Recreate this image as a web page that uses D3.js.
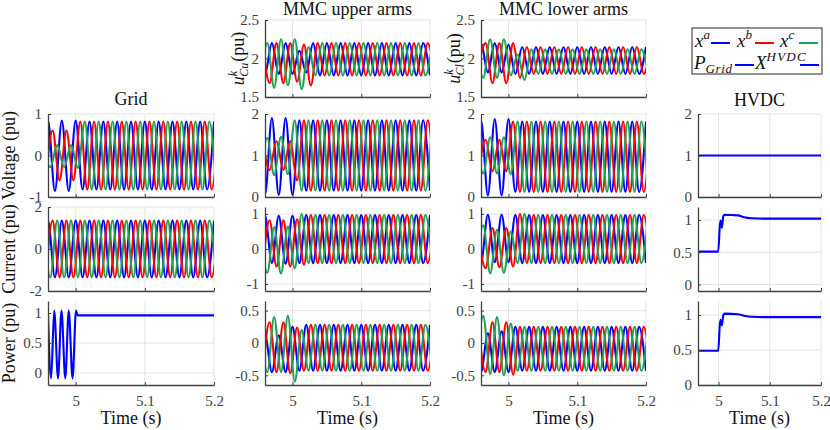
<!DOCTYPE html>
<html>
<head>
<meta charset="utf-8">
<script src="https://cdn.jsdelivr.net/npm/d3@7"></script>
<style>
  body { margin: 0; background: #fff; }
  svg { font-family: "Liberation Serif", serif; }
</style>
</head>
<body>
<div id="chart"></div>
<script>
// time axis shared by every panel
const t_start = 4.96;
const t_end = 5.2;
const time_ticks = [5, 5.1, 5.2];

// three-phase waveforms are stored as successive extrema (peak / trough),
// one every half period, starting at phase_t0 for phase a, b, c
const half_period = 0.01;
const phase_t0 = [4.95, 4.9567, 4.9533];
const phase_colors = ['#0000ff', '#ff0000', '#20a050'];

// Grid voltage
const gridVa = [-0.86, 0.84, -0.86, 0.84, -0.86, 0.84, -0.82, 0.82, -0.82, 0.82, -0.82, 0.82, -0.82, 0.82, -0.82, 0.82, -0.82, 0.82, -0.82, 0.82, -0.82, 0.82, -0.82, 0.82, -0.82, 0.82];
const gridVb = [-0.6, 0.6, -0.6, 0.6, -0.6, 0.82, -0.82, 0.82, -0.82, 0.82, -0.82, 0.82, -0.82, 0.82, -0.82, 0.82, -0.82, 0.82, -0.82, 0.82, -0.82, 0.82, -0.82, 0.82, -0.82, 0.82];
const gridVc = [0.22, -0.28, 0.25, -0.28, 0.25, -0.3, 0.82, -0.82, 0.82, -0.82, 0.82, -0.82, 0.82, -0.82, 0.82, -0.82, 0.82, -0.82, 0.82, -0.82, 0.82, -0.82, 0.82, -0.82, 0.82, -0.82];
// Grid current
const gridIa = [-1.35, 1.35, -1.35, 1.35, -1.35, 1.35, -1.35, 1.35, -1.35, 1.35, -1.35, 1.35, -1.35, 1.35, -1.35, 1.35, -1.35, 1.35, -1.35, 1.35, -1.35, 1.35, -1.35, 1.35, -1.35, 1.35];
const gridIb = [-1.35, 1.35, -1.35, 1.35, -1.35, 1.35, -1.35, 1.35, -1.35, 1.35, -1.35, 1.35, -1.35, 1.35, -1.35, 1.35, -1.35, 1.35, -1.35, 1.35, -1.35, 1.35, -1.35, 1.35, -1.35, 1.35];
const gridIc = [1.35, -1.35, 1.35, -1.35, 1.35, -1.35, 1.35, -1.35, 1.35, -1.35, 1.35, -1.35, 1.35, -1.35, 1.35, -1.35, 1.35, -1.35, 1.35, -1.35, 1.35, -1.35, 1.35, -1.35, 1.35, -1.35];
// Grid power (single trace)
const gridPowerT = [4.96, 4.9645, 4.969, 4.9745, 4.9795, 4.985, 4.990, 4.9955, 5.0005, 5.003, 5.2];
const gridPowerV = [0.96, -0.09, 1.04, -0.09, 1.04, -0.09, 1.04, -0.09, 1.04, 0.96, 0.96];

// MMC upper arms
const upperUcA = [2.2, 1.8, 2.2, 1.8, 2.2, 1.8, 2.1, 1.82, 2.2, 1.78, 2.2, 1.78, 2.2, 1.78, 2.2, 1.78, 2.2, 1.78, 2.2, 1.78, 2.2, 1.78, 2.2, 1.78, 2.2, 1.78];
const upperUcB = [2.2, 1.68, 2.2, 1.68, 2.2, 1.7, 2.18, 1.65, 2.2, 1.78, 2.2, 1.78, 2.2, 1.78, 2.2, 1.78, 2.2, 1.78, 2.2, 1.78, 2.2, 1.78, 2.2, 1.78, 2.2, 1.78];
const upperUcC = [1.75, 2.2, 1.62, 2.25, 1.65, 2.25, 1.6, 2.15, 1.78, 2.2, 1.78, 2.2, 1.78, 2.2, 1.78, 2.2, 1.78, 2.2, 1.78, 2.2, 1.78, 2.2, 1.78, 2.2, 1.78, 2.2];
const upperVa = [1.9, 0.06, 1.9, 0.05, 1.9, 0.05, 1.85, 0.15, 1.85, 0.15, 1.85, 0.15, 1.85, 0.15, 1.85, 0.15, 1.85, 0.15, 1.85, 0.15, 1.85, 0.15, 1.85, 0.15, 1.85, 0.15];
const upperVb = [1.35, 0.65, 1.35, 0.65, 1.35, 0.4, 1.85, 0.15, 1.85, 0.15, 1.85, 0.15, 1.85, 0.15, 1.85, 0.15, 1.85, 0.15, 1.85, 0.15, 1.85, 0.15, 1.85, 0.15, 1.85, 0.15];
const upperVc = [0.55, 1.42, 0.53, 1.45, 0.55, 1.85, 0.15, 1.85, 0.15, 1.85, 0.15, 1.85, 0.15, 1.85, 0.15, 1.85, 0.15, 1.85, 0.15, 1.85, 0.15, 1.85, 0.15, 1.85, 0.15, 1.85];
const upperIa = [-0.4, 0.95, -0.4, 0.95, -0.42, 0.95, -0.4, 0.97, -0.4, 0.97, -0.4, 0.97, -0.4, 0.97, -0.4, 0.97, -0.4, 0.97, -0.4, 0.97, -0.4, 0.97, -0.4, 0.97, -0.4, 0.97];
const upperIb = [-0.5, 0.82, -0.5, 0.82, -0.5, 0.85, -0.45, 0.97, -0.4, 0.97, -0.4, 0.97, -0.4, 0.97, -0.4, 0.97, -0.4, 0.97, -0.4, 0.97, -0.4, 0.97, -0.4, 0.97, -0.4, 0.97];
const upperIc = [0.5, -0.68, 0.62, -0.7, 0.64, -0.55, 1.0, -0.4, 0.97, -0.4, 0.97, -0.4, 0.97, -0.4, 0.97, -0.4, 0.97, -0.4, 0.97, -0.4, 0.97, -0.4, 0.97, -0.4, 0.97, -0.4];
const upperPa = [-0.42, 0.12, -0.45, 0.12, -0.45, 0.25, -0.43, 0.28, -0.43, 0.28, -0.43, 0.28, -0.43, 0.28, -0.43, 0.28, -0.43, 0.28, -0.43, 0.28, -0.43, 0.28, -0.43, 0.28, -0.43, 0.28];
const upperPb = [-0.45, 0.32, -0.45, 0.32, -0.47, 0.24, -0.43, 0.28, -0.43, 0.28, -0.43, 0.28, -0.43, 0.28, -0.43, 0.28, -0.43, 0.28, -0.43, 0.28, -0.43, 0.28, -0.43, 0.28, -0.43, 0.28];
const upperPc = [0.3, -0.45, 0.4, -0.45, 0.42, -0.6, 0.2, -0.43, 0.28, -0.43, 0.28, -0.43, 0.28, -0.43, 0.28, -0.43, 0.28, -0.43, 0.28, -0.43, 0.28, -0.43, 0.28, -0.43, 0.28, -0.43];

// MMC lower arms
const lowerUcA = [1.8, 2.2, 1.82, 2.2, 1.82, 2.18, 1.8, 2.15, 1.8, 2.15, 1.8, 2.15, 1.8, 2.15, 1.8, 2.15, 1.8, 2.15, 1.8, 2.15, 1.8, 2.15, 1.8, 2.15, 1.8, 2.15];
const lowerUcB = [1.95, 2.2, 1.68, 2.2, 1.68, 2.2, 1.75, 2.15, 1.8, 2.15, 1.8, 2.15, 1.8, 2.15, 1.8, 2.15, 1.8, 2.15, 1.8, 2.15, 1.8, 2.15, 1.8, 2.15, 1.8, 2.15];
const lowerUcC = [2.1, 1.75, 2.25, 1.75, 2.25, 1.78, 2.05, 1.72, 2.12, 1.8, 2.12, 1.8, 2.12, 1.8, 2.12, 1.8, 2.12, 1.8, 2.12, 1.8, 2.12, 1.8, 2.12, 1.8, 2.12, 1.8];
const lowerVa = [0.05, 1.85, 0.04, 1.88, 0.04, 1.88, 0.12, 1.82, 0.12, 1.82, 0.12, 1.82, 0.12, 1.82, 0.12, 1.82, 0.12, 1.82, 0.12, 1.82, 0.12, 1.82, 0.12, 1.82, 0.12, 1.82];
const lowerVb = [0.62, 1.38, 0.62, 1.38, 0.62, 1.82, 0.12, 1.82, 0.12, 1.82, 0.12, 1.82, 0.12, 1.82, 0.12, 1.82, 0.12, 1.82, 0.12, 1.82, 0.12, 1.82, 0.12, 1.82, 0.12, 1.82];
const lowerVc = [1.3, 0.57, 1.44, 0.57, 1.44, 0.55, 1.82, 0.12, 1.82, 0.12, 1.82, 0.12, 1.82, 0.12, 1.82, 0.12, 1.82, 0.12, 1.82, 0.12, 1.82, 0.12, 1.82, 0.12, 1.82, 0.12];
const lowerIa = [0.98, -0.38, 0.98, -0.38, 0.98, -0.38, 0.97, -0.4, 0.97, -0.4, 0.97, -0.4, 0.97, -0.4, 0.97, -0.4, 0.97, -0.4, 0.97, -0.4, 0.97, -0.4, 0.97, -0.4, 0.97, -0.4];
const lowerIb = [0.3, -0.55, 0.6, -0.52, 0.6, -0.5, 1.0, -0.4, 0.97, -0.4, 0.97, -0.4, 0.97, -0.4, 0.97, -0.4, 0.97, -0.4, 0.97, -0.4, 0.97, -0.4, 0.97, -0.4, 0.97, -0.4];
const lowerIc = [-0.3, 0.68, -0.7, 0.55, -0.68, 0.5, -0.4, 1.0, -0.4, 0.97, -0.4, 0.97, -0.4, 0.97, -0.4, 0.97, -0.4, 0.97, -0.4, 0.97, -0.4, 0.97, -0.4, 0.97, -0.4, 0.97];
const lowerPa = [0.15, -0.45, 0.15, -0.45, 0.18, -0.45, 0.25, -0.43, 0.25, -0.43, 0.25, -0.43, 0.25, -0.43, 0.25, -0.43, 0.25, -0.43, 0.25, -0.43, 0.25, -0.43, 0.25, -0.43, 0.25, -0.43];
const lowerPb = [0.2, -0.45, 0.32, -0.45, 0.32, -0.49, 0.25, -0.43, 0.25, -0.43, 0.25, -0.43, 0.25, -0.43, 0.25, -0.43, 0.25, -0.43, 0.25, -0.43, 0.25, -0.43, 0.25, -0.43, 0.25, -0.43];
const lowerPc = [-0.4, 0.42, -0.48, 0.4, -0.5, 0.3, -0.43, 0.25, -0.43, 0.25, -0.43, 0.25, -0.43, 0.25, -0.43, 0.25, -0.43, 0.25, -0.43, 0.25, -0.43, 0.25, -0.43, 0.25, -0.43, 0.25];

// HVDC side (single traces)
const hvdcVoltT = [4.96, 5.2];
const hvdcVoltV = [1, 1];
const hvdcCurT = [4.96, 4.9995, 5.0025, 5.004, 5.0065, 5.0095, 5.012, 5.038, 5.05, 5.065, 5.09, 5.2];
const hvdcCurV = [0.51, 0.51, 0.9, 0.99, 0.88, 1.06, 1.08, 1.07, 1.04, 1.025, 1.02, 1.02];
const hvdcPowT = [4.96, 4.9995, 5.0025, 5.004, 5.0065, 5.0095, 5.012, 5.038, 5.05, 5.065, 5.09, 5.2];
const hvdcPowV = [0.49, 0.49, 0.85, 0.93, 0.85, 1.0, 1.02, 1.01, 0.99, 0.975, 0.97, 0.97];

// layout
const chart_width = 830;
const chart_height = 430;
const columns = { grid: [48, 214], upper: [265, 430], lower: [481, 646], hvdc: [698, 821] };
const rows = [[20, 97], [114, 197], [207, 291], [301, 385]];
const font = '"Liberation Serif", serif';
const axis_color = '#404040';
const grid_color = '#e4e4e4';

const panels = [
    { col: 'grid', row: 1, ylim: [-1, 1], yticks: [-1, 0, 1], phases: [gridVa, gridVb, gridVc] },
    { col: 'grid', row: 2, ylim: [-2, 2], yticks: [-2, 0, 2], phases: [gridIa, gridIb, gridIc] },
    { col: 'grid', row: 3, ylim: [-0.2, 1.2], yticks: [0, 0.5, 1], trace: [gridPowerT, gridPowerV] },
    { col: 'upper', row: 0, ylim: [1.5, 2.5], yticks: [1.5, 2, 2.5], phases: [upperUcA, upperUcB, upperUcC] },
    { col: 'upper', row: 1, ylim: [0, 2], yticks: [0, 1, 2], phases: [upperVa, upperVb, upperVc] },
    { col: 'upper', row: 2, ylim: [-1.2, 1.2], yticks: [-1, 0, 1], phases: [upperIa, upperIb, upperIc] },
    { col: 'upper', row: 3, ylim: [-0.65, 0.65], yticks: [-0.5, 0, 0.5], phases: [upperPa, upperPb, upperPc] },
    { col: 'lower', row: 0, ylim: [1.5, 2.5], yticks: [1.5, 2, 2.5], phases: [lowerUcA, lowerUcB, lowerUcC] },
    { col: 'lower', row: 1, ylim: [0, 2], yticks: [0, 1, 2], phases: [lowerVa, lowerVb, lowerVc] },
    { col: 'lower', row: 2, ylim: [-1.2, 1.2], yticks: [-1, 0, 1], phases: [lowerIa, lowerIb, lowerIc] },
    { col: 'lower', row: 3, ylim: [-0.65, 0.65], yticks: [-0.5, 0, 0.5], phases: [lowerPa, lowerPb, lowerPc] },
    { col: 'hvdc', row: 1, ylim: [0, 2], yticks: [0, 1, 2], trace: [hvdcVoltT, hvdcVoltV] },
    { col: 'hvdc', row: 2, ylim: [-0.1, 1.2], yticks: [0, 0.5, 1], trace: [hvdcCurT, hvdcCurV] },
    { col: 'hvdc', row: 3, ylim: [0, 1.2], yticks: [0, 0.5, 1], trace: [hvdcPowT, hvdcPowV] }
];

const svg = d3.select('#chart')
    .append('svg')
    .attr('width', chart_width)
    .attr('height', chart_height);

const defs = svg.append('defs');

panels.forEach((p, n) => {
    const [x0, x1] = columns[p.col];
    const [y0, y1] = rows[p.row];
    const x_scale = d3.scaleLinear().domain([t_start, t_end]).range([x0, x1]);
    const y_scale = d3.scaleLinear().domain(p.ylim).range([y1, y0]);
    const g = svg.append('g');

    // grid lines
    g.selectAll('line.vgrid')
        .data(time_ticks)
        .enter()
        .append('line')
        .attr('x1', d => x_scale(d)).attr('x2', d => x_scale(d))
        .attr('y1', y0).attr('y2', y1)
        .attr('stroke', grid_color);
    g.selectAll('line.hgrid')
        .data(p.yticks)
        .enter()
        .append('line')
        .attr('x1', x0).attr('x2', x1)
        .attr('y1', d => y_scale(d)).attr('y2', d => y_scale(d))
        .attr('stroke', grid_color);

    defs.append('clipPath').attr('id', 'clip' + n)
        .append('rect')
        .attr('x', x0).attr('y', y0)
        .attr('width', x1 - x0).attr('height', y1 - y0);

    const line = d3.line()
        .x(d => x_scale(d[0]))
        .y(d => y_scale(d[1]))
        .curve(d3.curveMonotoneX);

    let traces;
    if (p.phases) {
        traces = p.phases.map((vals, k) => ({
            pts: vals.map((v, i) => [phase_t0[k] + i * half_period, v]),
            color: phase_colors[k]
        }));
    } else {
        traces = [{ pts: p.trace[0].map((t, i) => [t, p.trace[1][i]]), color: phase_colors[0] }];
    }

    g.append('g')
        .attr('clip-path', `url(#clip${n})`)
        .selectAll('path')
        .data(traces)
        .enter()
        .append('path')
        .attr('d', d => line(d.pts))
        .attr('fill', 'none')
        .attr('stroke', d => d.color)
        .attr('stroke-width', 2.1)
        .attr('stroke-linejoin', 'round');

    // axes
    const x_axis = d3.axisBottom(x_scale)
        .tickValues(time_ticks)
        .tickSizeInner(-3)
        .tickSizeOuter(0)
        .tickPadding(10)
        .tickFormat(p.row === 3 ? d => String(d) : '');
    g.append('g')
        .attr('transform', `translate(0,${y1})`)
        .call(x_axis)
        .attr('font-family', font)
        .attr('font-size', 15)
        .attr('color', axis_color)
        .call(a => a.select('.domain').attr('stroke-width', 1.3));

    const y_axis = d3.axisLeft(y_scale)
        .tickValues(p.yticks)
        .tickSizeInner(-3)
        .tickSizeOuter(0)
        .tickPadding(6)
        .tickFormat(d => String(d));
    g.append('g')
        .attr('transform', `translate(${x0},0)`)
        .call(y_axis)
        .attr('font-family', font)
        .attr('font-size', 15)
        .attr('color', axis_color)
        .call(a => a.select('.domain').attr('stroke-width', 1.3));
});

// column titles
const titles = [
    { text: 'Grid', col: 'grid', y: 105 },
    { text: 'MMC upper arms', col: 'upper', y: 15 },
    { text: 'MMC lower arms', col: 'lower', y: 15 },
    { text: 'HVDC', col: 'hvdc', y: 106 }
];
svg.selectAll('text.title')
    .data(titles)
    .enter()
    .append('text')
    .attr('x', d => (columns[d.col][0] + columns[d.col][1]) / 2)
    .attr('y', d => d.y)
    .attr('text-anchor', 'middle')
    .attr('font-family', font)
    .attr('font-size', 18)
    .attr('fill', '#111')
    .text(d => d.text);

// x labels
svg.selectAll('text.xlabel')
    .data(Object.keys(columns))
    .enter()
    .append('text')
    .attr('x', d => (columns[d][0] + columns[d][1]) / 2)
    .attr('y', 424)
    .attr('text-anchor', 'middle')
    .attr('font-family', font)
    .attr('font-size', 18)
    .attr('fill', '#111')
    .text('Time (s)');

// y labels of the grid column
const ylabels = [
    { text: 'Voltage (pu)', row: 1 },
    { text: 'Current (pu)', row: 2 },
    { text: 'Power (pu)', row: 3 }
];
svg.selectAll('text.ylabel')
    .data(ylabels)
    .enter()
    .append('text')
    .attr('transform', d => `translate(15,${(rows[d.row][0] + rows[d.row][1]) / 2}) rotate(-90)`)
    .attr('text-anchor', 'middle')
    .attr('font-family', font)
    .attr('font-size', 18)
    .attr('fill', '#111')
    .text(d => d.text);

// capacitor voltage labels u^k_{Cu}, u^k_{Cl}
[['upper', 'Cu'], ['lower', 'Cl']].forEach(([col, sub]) => {
    const t = svg.append('text')
        .attr('transform', `translate(${columns[col][0] - 21},${(rows[0][0] + rows[0][1]) / 2}) rotate(-90)`)
        .attr('text-anchor', 'middle')
        .attr('font-family', font)
        .attr('font-size', 18)
        .attr('fill', '#111');
    t.append('tspan').attr('font-style', 'italic').text('u');
    t.append('tspan').attr('font-style', 'italic').attr('font-size', 12).attr('dy', -7).text('k');
    t.append('tspan').attr('font-style', 'italic').attr('font-size', 12).attr('dx', -6).attr('dy', 11).text(sub);
    t.append('tspan').attr('dy', -4).attr('dx', 1).text('(pu)');
});

// legend
const legend = svg.append('g');
legend.append('rect')
    .attr('x', 692).attr('y', 28)
    .attr('width', 130).attr('height', 46)
    .attr('fill', '#fff')
    .attr('stroke', '#262626')
    .attr('stroke-width', 1);

const legend_items = [
    { base: 'x', sup: 'a', sub: null, x: 695, tx: 711, y: 47, color: phase_colors[0] },
    { base: 'x', sup: 'b', sub: null, x: 737, tx: 755, y: 47, color: phase_colors[1] },
    { base: 'x', sup: 'c', sub: null, x: 780, tx: 799, y: 47, color: phase_colors[2] },
    { base: 'P', sup: null, sub: 'Grid', x: 694, tx: 735, y: 69, color: phase_colors[0] },
    { base: 'X', sup: 'HVDC', sub: null, x: 755, tx: 800, y: 69, color: phase_colors[0] }
];
legend_items.forEach(d => {
    const t = legend.append('text')
        .attr('x', d.x).attr('y', d.y)
        .attr('font-family', font)
        .attr('font-size', 19)
        .attr('font-style', 'italic')
        .attr('fill', '#111');
    t.append('tspan').text(d.base);
    if (d.sup) t.append('tspan').attr('font-size', 13).attr('dy', -8).attr('letter-spacing', d.sup.length > 1 ? 1.2 : 0).text(d.sup);
    if (d.sub) t.append('tspan').attr('font-size', 13).attr('dy', 4).attr('letter-spacing', 0.6).text(d.sub);
    legend.append('line')
        .attr('x1', d.tx).attr('x2', d.tx + 19)
        .attr('y1', d.y - 4).attr('y2', d.y - 4)
        .attr('stroke', d.color)
        .attr('stroke-width', 2);
});
</script>
</body>
</html>
